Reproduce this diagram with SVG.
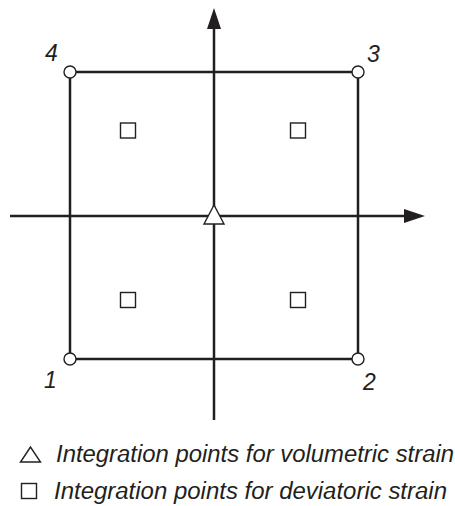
<svg xmlns="http://www.w3.org/2000/svg" width="455" height="506" viewBox="0 0 455 506">
<defs>
<style>
.ax{stroke:#231f20;stroke-width:2.5;fill:none}
.edge{stroke:#231f20;stroke-width:2.5;fill:none}
.node{fill:#fff;stroke:#231f20;stroke-width:1.4}
.ip{fill:#fff;stroke:#231f20;stroke-width:1.4}
.lbl{font-family:"Liberation Sans",Arial,sans-serif;font-style:italic;font-size:23px;fill:#231f20}
</style>
</defs>
<rect width="455" height="506" fill="#fff"/>
<g id="connectors">
<line class="edge" x1="70" y1="72" x2="358" y2="72"/>
<line class="edge" x1="358" y1="72" x2="358" y2="359"/>
<line class="edge" x1="358" y1="359" x2="70" y2="359"/>
<line class="edge" x1="70" y1="359" x2="70" y2="72"/>
<line class="ax" x1="214" y1="420" x2="214" y2="26"/>
<polygon points="214,8 207,29 221,29" fill="#231f20"/>
<line class="ax" x1="10" y1="216" x2="406" y2="216"/>
<polygon points="425,216 404,209 404,223" fill="#231f20"/>
</g>
<g id="node1"><circle class="node" cx="70" cy="359" r="6"/><text class="lbl" x="44" y="388">1</text></g>
<g id="node2"><circle class="node" cx="358" cy="359" r="6"/><text class="lbl" x="363" y="390">2</text></g>
<g id="node3"><circle class="node" cx="358" cy="72" r="6"/><text class="lbl" x="367" y="62">3</text></g>
<g id="node4"><circle class="node" cx="70" cy="72" r="6"/><text class="lbl" x="45" y="61">4</text></g>
<g id="ip-vol"><polygon class="ip" points="214,205 204,224 224,224"/></g>
<g id="ip-dev">
<rect class="ip" x="120.5" y="123" width="15" height="15"/>
<rect class="ip" x="290.5" y="123" width="15" height="15"/>
<rect class="ip" x="120.5" y="292.5" width="15" height="15"/>
<rect class="ip" x="290.5" y="292.5" width="15" height="15"/>
</g>
<g id="legend">
<polygon class="ip" points="30.5,447 20.5,462 40.5,462"/>
<text class="lbl" x="56" y="462" textLength="398" lengthAdjust="spacingAndGlyphs">Integration points for volumetric strain</text>
<rect class="ip" x="21.5" y="483.5" width="15" height="15"/>
<text class="lbl" x="54" y="499" textLength="393" lengthAdjust="spacingAndGlyphs">Integration points for deviatoric strain</text>
</g>
</svg>
